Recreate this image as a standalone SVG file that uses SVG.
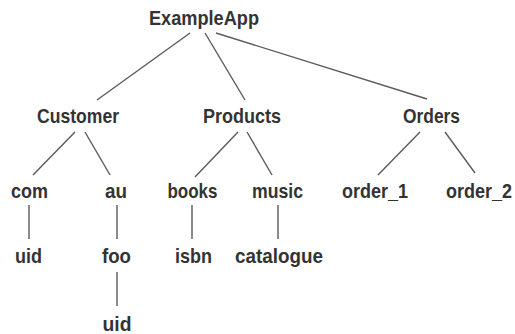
<svg xmlns="http://www.w3.org/2000/svg" width="515" height="334" viewBox="0 0 515 334">
<style>
text{font-family:"Liberation Sans",Arial,sans-serif;font-weight:bold;font-size:21px;fill:#333;text-anchor:middle}
text.s{font-size:18px}
.c line{stroke:#5a5a5a;stroke-width:1.4;fill:none}
</style>
<rect width="515" height="334" fill="#fff"/>
<g class="c" id="connectors">
<line x1="190" y1="33" x2="97" y2="100"/>
<line x1="205" y1="33" x2="245" y2="100"/>
<line x1="216" y1="33" x2="427" y2="99"/>
<line x1="75" y1="132" x2="33" y2="175"/>
<line x1="85" y1="132" x2="110" y2="175"/>
<line x1="238" y1="132" x2="195" y2="177"/>
<line x1="247" y1="132" x2="272" y2="175"/>
<line x1="420" y1="132" x2="378" y2="175"/>
<line x1="445" y1="132" x2="475" y2="173"/>
<line x1="29" y1="205" x2="29" y2="239"/>
<line x1="117" y1="205" x2="117" y2="239"/>
<line x1="192" y1="205" x2="192" y2="239"/>
<line x1="278" y1="205" x2="278" y2="239"/>
<line x1="117" y1="272" x2="117" y2="306"/>
</g>
<g id="n-exampleapp"><text x="204" y="25" textLength="110" lengthAdjust="spacingAndGlyphs">ExampleApp</text></g>
<g id="n-customer"><text x="78" y="123" textLength="82" lengthAdjust="spacingAndGlyphs">Customer</text></g>
<g id="n-products"><text x="242" y="123" textLength="78" lengthAdjust="spacingAndGlyphs">Products</text></g>
<g id="n-orders"><text x="431.5" y="123" textLength="57" lengthAdjust="spacingAndGlyphs">Orders</text></g>
<g id="n-com"><text x="29.5" y="198" textLength="37" lengthAdjust="spacingAndGlyphs">com</text></g>
<g id="n-au"><text x="116" y="198" textLength="22" lengthAdjust="spacingAndGlyphs">au</text></g>
<g id="n-books"><text x="192.5" y="198" textLength="50" lengthAdjust="spacingAndGlyphs">books</text></g>
<g id="n-music"><text x="277.5" y="198" textLength="51" lengthAdjust="spacingAndGlyphs">music</text></g>
<g id="n-order1"><text x="375" y="198" textLength="66" lengthAdjust="spacingAndGlyphs">order_1</text></g>
<g id="n-order2"><text class="s" transform="translate(479,198) scale(1,1.167)" x="0" y="0">order_2</text></g>
<g id="n-uid1"><text x="28.5" y="263" textLength="27" lengthAdjust="spacingAndGlyphs">uid</text></g>
<g id="n-foo"><text x="116.5" y="263" textLength="29" lengthAdjust="spacingAndGlyphs">foo</text></g>
<g id="n-isbn"><text x="193.5" y="263" textLength="37" lengthAdjust="spacingAndGlyphs">isbn</text></g>
<g id="n-catalogue"><text x="279" y="263" textLength="88" lengthAdjust="spacingAndGlyphs">catalogue</text></g>
<g id="n-uid2"><text x="117" y="331" textLength="29" lengthAdjust="spacingAndGlyphs">uid</text></g>
</svg>
